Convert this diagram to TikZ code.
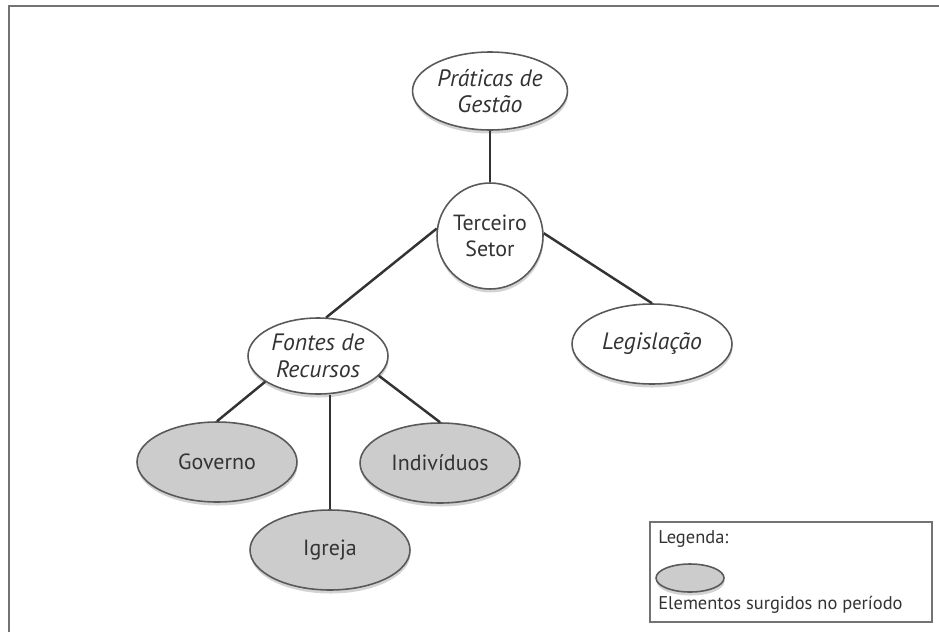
\documentclass[tikz,border=0pt]{standalone}
\usepackage{fontspec}
\setmainfont{PT Sans}
\usetikzlibrary{shapes.geometric}
\usetikzlibrary{shadows}
\colorlet{ink}{black!80}
\colorlet{rim}{black!65}
\colorlet{novo}{black!20}
\tikzset{
  % node options
  topic/.style={ellipse,draw=rim,line width=0.9pt,fill=white,text=ink,align=center,
    inner sep=0pt,minimum width=3.2cm,minimum height=1.6cm,font=\fontsize{12.5}{14.5}\selectfont,
    drop shadow={shadow xshift=0.3pt,shadow yshift=-2pt,opacity=0.35}},
  theme/.style={topic,font=\fontsize{13.5}{15}\selectfont\itshape},
  novel/.style={topic,fill=novo},
  hub/.style={topic,circle,minimum size=2.12cm},
  legendbox/.style={draw=black!55,line width=0.9pt,minimum width=5.64cm,minimum height=2cm},
  legendtext/.style={anchor=base west,inner sep=0pt,text=ink,font=\fontsize{10.5}{12}\selectfont},
  % path options
  link/.style={draw=ink,line width=1.4pt},
  frame/.style={draw=black!55,line width=1.2pt},
}

\begin{document}
\begin{tikzpicture}[x=0.02cm,y=-0.02cm]
  \useasboundingbox (0,0) rectangle (939,632);
  \draw[frame] (9,632) -- (9,6) -- (939,6);
  % nodes
  \node[theme,minimum width=3.1cm,minimum height=1.56cm] (praticas) at (490,91) {Práticas de\\Gestão};
  \node[hub] (terceiro) at (490,236) {Terceiro\\Setor};
  \node[theme,minimum width=2.8cm,minimum height=1.52cm] (fontes) at (318,356) {Fontes de\\Recursos};
  \node[theme] (legislacao) at (652,344) {Legislação};
  \node[novel] (governo) at (217,462) {Governo};
  \node[novel] (individuos) at (440,463) {Indivíduos};
  \node[novel] (igreja) at (330,550) {Igreja};
  % connectors
  \draw[link] (praticas) -- (terceiro);
  \draw[link] (terceiro.172) -- (fontes.78);
  \draw[link] (terceiro.3) -- (legislacao.north);
  \draw[link] (fontes.206) -- (governo.north);
  \draw[link] (igreja.north) -- (igreja.north |- fontes.south);
  \draw[link] (fontes.-18) -- (individuos.north);
  % legend
  \node[legendbox] (legenda) at (791,572) {};
  \node[legendtext] (legtitle) at (658,543) {Legenda:};
  \node[novel,minimum width=1.36cm,minimum height=0.56cm] (legmark) at (690,578) {};
  \node[legendtext] (legtext) at (658,609) {Elementos surgidos no período};
\end{tikzpicture}
\end{document}
